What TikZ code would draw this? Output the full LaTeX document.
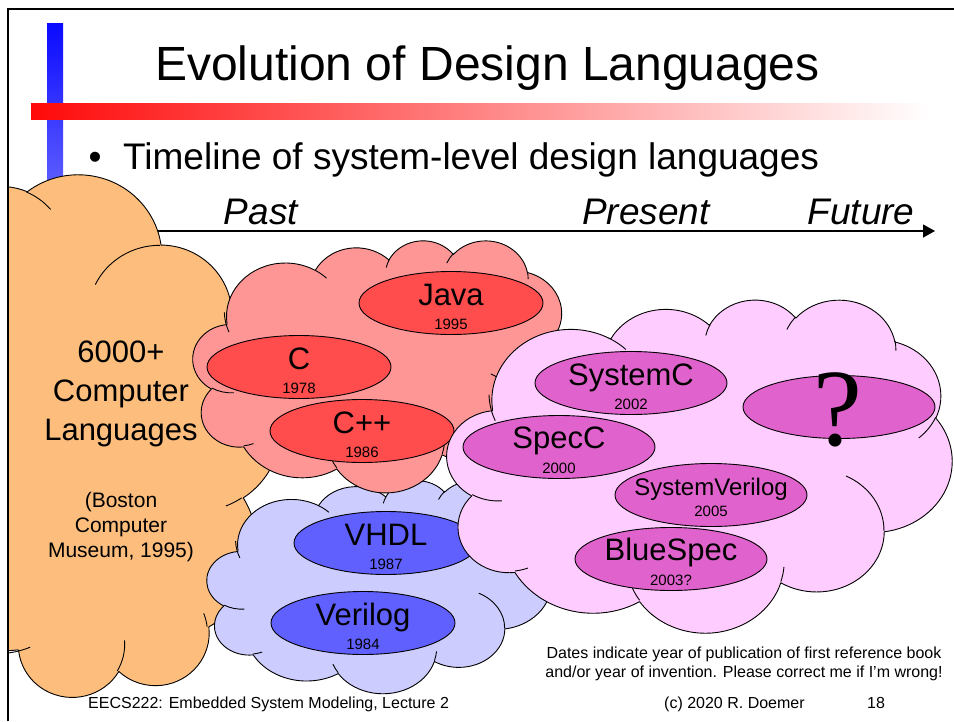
\documentclass[tikz,border=0pt]{standalone}
\usepackage{fontspec}
\setmainfont{Liberation Sans}
\newfontfamily\qfont{Liberation Serif}
\usetikzlibrary{shapes.geometric,arrows.meta}

\definecolor{orangecloud}{RGB}{253,190,125}
\definecolor{redcloud}{RGB}{255,150,150}
\definecolor{bluecloud}{RGB}{204,204,255}
\definecolor{pinkcloud}{RGB}{255,204,255}
\definecolor{redlangfill}{RGB}{255,77,77}
\definecolor{bluelangfill}{RGB}{96,96,255}
\definecolor{pinklangfill}{RGB}{224,98,204}

% elliptic arc given by radii, visual start angle and sweep (degrees)
\newcommand\pparc[4]{%
  \pgfextra{%
    \pgfmathsetmacro\pparcS{atan2((#1)*sin(#3),(#2)*cos(#3))}%
    \pgfmathsetmacro\pparcE{atan2((#1)*sin((#3)+(#4)),(#2)*cos((#3)+(#4)))}%
    \pgfmathsetmacro\pparcE{\pparcE+360*round((\pparcS+(#4)-\pparcE)/360)}%
    \global\let\pparcS\pparcS\global\let\pparcE\pparcE}%
  arc[start angle=\pparcS, end angle=\pparcE, x radius=#1, y radius=#2]}

% cloud outline in a 432 x 432 box
\newcommand\cloudpath{(39.00,143.70)
  \pparc{67.53}{91.90}{-190.4875}{123.7805}
  \pparc{53.33}{72.67}{-144.1024}{89.9452}
  \pparc{43.65}{59.45}{-145.8079}{99.7230}
  \pparc{48.57}{65.95}{-130.9861}{117.2417}
  \pparc{53.33}{72.73}{-78.7089}{109.0269}
  \pparc{67.75}{92.20}{-46.2673}{130.2690}
  \pparc{57.85}{78.67}{0.6250}{114.0333}
  \pparc{67.52}{92.15}{22.4516}{115.1726}
  \pparc{77.20}{105.43}{66.2426}{75.7110}
  \pparc{43.60}{59.18}{-274.9421}{146.7356}
  \pparc{43.45}{59.45}{-246.8285}{152.5189}}

% the small inner arcs of the cloud
\newcommand\cloudcurls{%
  (46.93,261.77) \pparc{43.45}{59.45}{86.7420}{26.4295}
  (69.28,348.99) \pparc{43.60}{59.18}{73.6105}{11.4475}
  (164.78,390.90) \pparc{67.52}{92.15}{137.6242}{14.0811}
  (288.27,347.51) \pparc{67.52}{92.15}{6.4533}{15.9984}
  (341.29,229.54) \pparc{57.85}{78.67}{-70.2924}{70.9174}
  (417.98,153.54) \pparc{53.33}{72.73}{30.3180}{27.7515}
  (383.24,54.26) \pparc{48.57}{65.95}{-13.7443}{14.8589}
  (290.78,39.52) \pparc{48.57}{65.95}{-149.1815}{18.1954}
  (221.41,47.20) \pparc{43.65}{59.45}{-163.4943}{17.6864}
  (140.00,51.92) \pparc{67.53}{91.90}{-66.7070}{12.3194}
  (41.27,157.89) \pparc{67.53}{91.90}{150.0000}{28.3333}}

\begin{document}
\begin{tikzpicture}[x=1pt,y=-1pt,
  cloudline/.style={draw=black,line width=0.9pt,line join=round},
  curl/.style={draw=black,line width=0.9pt},
  langshape/.style={ellipse,draw=black,line width=0.9pt,inner sep=0pt,
    minimum width=184pt,minimum height=63pt},
  redlang/.style={langshape,fill=redlangfill},
  bluelang/.style={langshape,fill=bluelangfill},
  pinklang/.style={langshape,fill=pinklangfill,minimum width=192pt},
  langname/.style={font=\fontsize{31}{37}\selectfont,anchor=base,inner sep=0pt},
  langyear/.style={font=\fontsize{15}{18}\selectfont,anchor=base,inner sep=0pt},
  bigtxt/.style={font=\fontsize{31}{37}\selectfont,anchor=base,inner sep=0pt},
  smalltxt/.style={font=\fontsize{21}{25}\selectfont,anchor=base,inner sep=0pt},
  eratxt/.style={font=\fontsize{37}{44}\selectfont\itshape,anchor=base,inner sep=0pt},
  foottxt/.style={font=\fontsize{16}{19}\selectfont,inner sep=0pt}]

\useasboundingbox (0,0) rectangle (954,721);
\fill[white] (0,0) rectangle (954,721);

% accent bars
\shade[top color={rgb,255:red,10;green,10;blue,255},bottom color=white]
  (47,23) rectangle (63,500);
\shade[left color={rgb,255:red,255;green,10;blue,10},right color=white]
  (31,103) rectangle (930,119);

% heading and bullet
\node[font=\fontsize{48}{56}\selectfont,anchor=base,inner sep=0pt] (heading)
  at (487.5,80) {Evolution of Design Languages};
\node[font=\fontsize{37}{44}\selectfont,anchor=base,inner sep=0pt] (dot)
  at (95,169) {•};
\node[font=\fontsize{37}{44}\selectfont,anchor=base west,inner sep=0pt] (bullet)
  at (123,169) {Timeline of system-level design languages};

% time axis
\node[eratxt] (past) at (261,224) {Past};
\node[eratxt] (present) at (646,224) {Present};
\node[eratxt] (future) at (861,224) {Future};
\coordinate (axisstart) at (140,231);
\coordinate (axisend) at (935,231);
\draw[line width=1.3pt,-{Triangle[length=12pt,width=13pt]}] (axisstart) -- (axisend);

% all computer languages
\begin{scope}
  \clip (9,0) rectangle (954,721);
  \begin{scope}[shift={(-113,697)},x={(0pt,522pt/432)},y={(392pt/432,0pt)}]
    \path[fill=orangecloud,cloudline] \cloudpath -- cycle;
    \path[curl] \cloudcurls;
  \end{scope}
\end{scope}
\node[bigtxt] (count1) at (121,362) {6000+};
\node[bigtxt] (count2) at (121,401) {Computer};
\node[bigtxt] (count3) at (121,440) {Languages};
\node[smalltxt] (src1) at (121,507) {(Boston};
\node[smalltxt] (src2) at (121,532) {Computer};
\node[smalltxt] (src3) at (121,557) {Museum, 1995)};

% hardware description languages
\begin{scope}[shift={(207,480)},x={(344pt/432,0pt)},y={(0pt,-213pt/432)}]
  \path[fill=bluecloud,cloudline] \cloudpath -- cycle;
  \path[curl] \cloudcurls;
\end{scope}
\node[bluelang] (vhdl) at (386,543) {};
\node[langname] at ([yshift=-2pt]vhdl.center) {VHDL};
\node[langyear] at ([yshift=-26pt]vhdl.center) {1987};
\node[bluelang] (verilog) at (363,623) {};
\node[langname] at ([yshift=-2pt]verilog.center) {Verilog};
\node[langyear] at ([yshift=-26pt]verilog.center) {1984};

% software languages
\begin{scope}[shift={(193,240)},x={(377pt/432,0pt)},y={(0pt,-252pt/432)}]
  \path[fill=redcloud,cloudline] \cloudpath -- cycle;
  \path[curl] \cloudcurls;
\end{scope}
\node[redlang] (java) at (451,303) {};
\node[langname] at ([yshift=-2pt]java.center) {Java};
\node[langyear] at ([yshift=-26pt]java.center) {1995};
\node[redlang] (c) at (299,367) {};
\node[langname] at ([yshift=-2pt]c.center) {C};
\node[langyear] at ([yshift=-26pt]c.center) {1978};
\node[redlang] (cpp) at (362,431) {};
\node[langname] at ([yshift=-2pt]cpp.center) {C++};
\node[langyear] at ([yshift=-26pt]cpp.center) {1986};

% system-level design languages
\begin{scope}[shift={(447,299)},x={(505pt/432,0pt)},y={(0pt,-333pt/432)}]
  \path[fill=pinkcloud,cloudline] \cloudpath -- cycle;
  \path[curl] \cloudcurls;
\end{scope}
\node[pinklang] (systemc) at (631,383) {};
\node[langname] at ([yshift=-2pt]systemc.center) {SystemC};
\node[langyear] at ([yshift=-26pt]systemc.center) {2002};
\node[pinklang] (unknown) at (839,407) {};
\node[font=\qfont\fontsize{110}{120}\selectfont,anchor=base,inner sep=0pt]
  at (838,445) {?};
\node[pinklang] (specc) at (559,447) {};
\node[langname] at ([yshift=-1pt]specc.center) {SpecC};
\node[langyear] at ([yshift=-26pt]specc.center) {2000};
\node[pinklang] (sv) at (711,495) {};
\node[font=\fontsize{24}{29}\selectfont,anchor=base,inner sep=0pt]
  at (sv.center) {SystemVerilog};
\node[langyear] at ([yshift=-21pt]sv.center) {2005};
\node[pinklang] (bluespec) at (671,559) {};
\node[langname] at ([yshift=-1pt]bluespec.center) {BlueSpec};
\node[langyear] at ([yshift=-26pt]bluespec.center) {2003?};

% notes and footer
\node[foottxt,anchor=base] (note1) at (744,658)
  {Dates indicate year of publication of first reference book};
\node[foottxt,anchor=base] (note2) at (744,677)
  {and/or year of invention. Please correct me if I’m wrong!};
\node[foottxt,anchor=base west] (course) at (88,708)
  {EECS222: Embedded System Modeling, Lecture 2};
\node[foottxt,anchor=base west] (author) at (664,708) {(c) 2020 R. Doemer};
\node[foottxt,anchor=base] (page) at (876,708) {18};

% slide frame
\draw[line width=2pt] (8,721) -- (8,9) -- (954,9);
\end{tikzpicture}
\end{document}
